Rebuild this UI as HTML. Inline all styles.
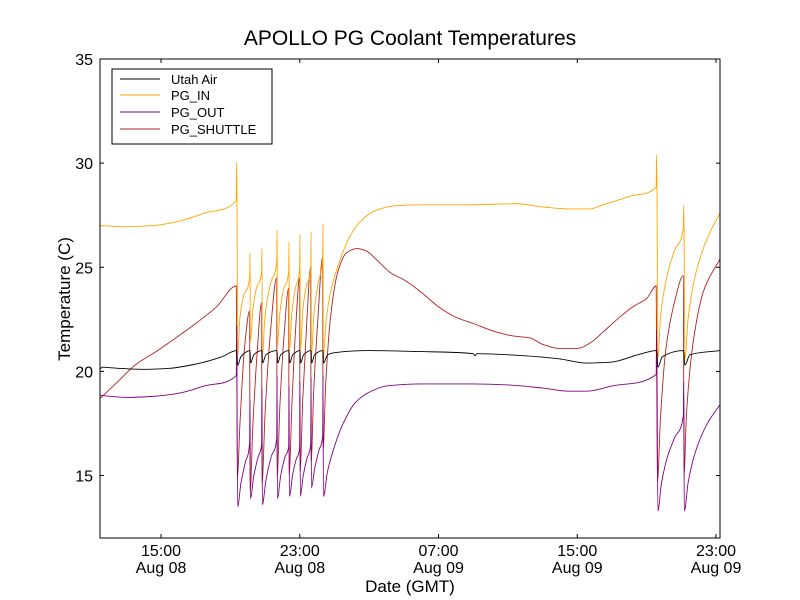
<!DOCTYPE html>
<html><head><meta charset="utf-8"><style>
body{margin:0;background:#fff}
svg{display:block;font-family:"Liberation Sans","DejaVu Sans",sans-serif}
</style></head><body>
<svg id="chart" width="800" height="600" xmlns="http://www.w3.org/2000/svg">
<rect width="800" height="600" fill="#fff"/>
<text x="410" y="45" font-size="21" text-anchor="middle">APOLLO PG Coolant Temperatures</text>
<g id="plot"></g>
<g id="axes"></g>
<text x="410" y="592" font-size="17" text-anchor="middle">Date (GMT)</text>
<text transform="translate(70,299) rotate(-90)" font-size="17" text-anchor="middle">Temperature (C)</text>
<g id="legend"></g>
</svg>
<script>
// hours since Aug 08 00:00
const xTickHours = [15, 23, 31, 39, 47];
const xTickTimes = ["15:00", "23:00", "07:00", "15:00", "23:00"];
const xTickDates = ["Aug 08", "Aug 08", "Aug 09", "Aug 09", "Aug 09"];
const yTicks = [15, 20, 25, 30, 35];
const seriesNames = ["Utah Air", "PG_IN", "PG_OUT", "PG_SHUTTLE"];
const seriesColors = ["#000000", "#ffa500", "#800080", "#b22222"];

const airT = [11.48,11.6,12.5,14,15.5,17,18.5,19.36,19.42,19.6,19.85,20.13,20.16,20.35,20.82,20.85,21.05,21.69,21.72,21.9,22.38,22.41,22.6,23.01,23.04,23.22,23.65,23.68,23.86,24.34,24.37,24.6,25,27,30,33,33.1,33.2,36,38,39.5,41,42.5,43.58,43.65,43.9,45.13,45.2,45.5,47.23];
const airV = [20.1,20.2,20.15,20.1,20.15,20.35,20.7,21.0,20.3,20.7,20.9,21.0,20.4,20.8,21.0,20.4,20.8,21.0,20.4,20.8,21.0,20.4,20.8,21.0,20.4,20.8,21.0,20.4,20.8,21.0,20.4,20.8,20.9,21.0,20.95,20.85,20.75,20.85,20.75,20.6,20.4,20.45,20.8,21.0,20.2,20.7,21.0,20.3,20.8,21.0];

const inT = [11.48,13,14.5,16,17.5,19.33,19.36,19.38,19.42,19.55,19.75,20.11,20.13,20.15,20.3,20.5,20.8,20.82,20.84,21.0,21.3,21.67,21.69,21.71,21.85,22.05,22.36,22.38,22.40,22.55,22.75,22.99,23.01,23.03,23.18,23.38,23.63,23.65,23.67,23.82,24.05,24.32,24.34,24.36,24.5,24.8,25.3,25.9,26.5,27.3,28.5,30,33,35.5,37,38.5,39.7,40.5,42,43.55,43.57,43.6,43.64,43.8,44.1,44.6,45.12,45.14,45.16,45.2,45.4,45.8,46.5,47.23];
const inV = [27.0,26.95,27.0,27.2,27.6,28.2,30.0,28.0,20.8,22.6,23.6,24.5,25.7,21.4,23.0,24.0,24.8,25.9,20.8,22.7,24.2,25.3,26.8,21.2,22.8,23.9,24.8,26.2,21.0,22.9,24.0,24.9,26.6,21.0,23.0,24.1,24.9,26.7,20.8,22.8,24.2,25.5,27.1,20.6,22.3,23.9,25.3,26.5,27.2,27.7,27.95,28.0,28.0,28.05,27.9,27.8,27.8,28.0,28.4,28.85,30.4,28.5,20.6,22.6,24.3,25.8,26.9,28.0,26.5,20.6,22.6,24.6,26.4,27.6];

const outT = [11.48,13,14.5,16,17.5,19.34,19.36,19.38,19.42,19.6,19.85,20.11,20.13,20.15,20.35,20.6,20.8,20.82,20.84,21.05,21.35,21.67,21.69,21.71,21.9,22.15,22.36,22.38,22.40,22.6,22.8,22.99,23.01,23.03,23.2,23.4,23.63,23.65,23.67,23.85,24.1,24.32,24.34,24.36,24.6,25.0,25.5,26.2,27.0,28,30,33,35,37,38.5,39.5,41,43.55,43.57,43.6,43.65,43.85,44.2,44.6,45.12,45.14,45.17,45.4,45.8,46.5,47.23];
const outV = [18.85,18.75,18.8,18.95,19.3,19.8,22.2,19.0,13.5,14.6,15.6,16.6,18.6,13.9,15.0,15.9,16.5,19.2,13.6,14.8,15.9,16.8,19.8,13.9,15.0,15.9,16.4,19.3,14.0,15.1,15.8,16.3,19.5,14.0,15.0,15.8,16.5,19.7,14.4,15.3,16.2,16.9,19.8,14.0,15.2,16.4,17.5,18.5,19.0,19.3,19.4,19.4,19.35,19.2,19.05,19.05,19.3,19.85,22.0,19.5,13.3,14.6,15.9,16.8,17.9,19.5,13.3,14.7,16.1,17.5,18.4];

const shT = [11.48,12.5,13.5,14.8,16,17,18.2,19.34,19.36,19.40,19.55,19.8,20.11,20.13,20.3,20.55,20.8,20.82,21.0,21.3,21.67,21.69,21.85,22.1,22.36,22.38,22.55,22.75,22.99,23.01,23.18,23.4,23.63,23.65,23.8,24.05,24.32,24.34,24.5,24.8,25.2,25.7,26.3,26.8,27.5,28.3,29,30,31,32,33,34.3,35.3,36.3,37,38,39,39.8,40.5,41.3,42.2,43,43.55,43.58,43.62,43.8,44.1,44.6,45.12,45.15,45.3,45.7,46.3,47.23];
const shV = [18.7,19.5,20.3,21.0,21.7,22.3,23.1,24.1,22.0,14.9,17.5,21.0,22.9,14.2,17.5,21.0,23.3,14.6,18.0,21.8,24.5,14.9,18.3,21.8,24.0,15.0,18.5,21.9,24.5,15.2,18.8,22.3,25.0,15.6,19.0,22.6,25.5,16.2,19.5,22.8,24.8,25.7,25.9,25.8,25.3,24.7,24.4,23.8,23.1,22.6,22.3,21.9,21.7,21.6,21.3,21.1,21.1,21.4,21.9,22.5,23.1,23.5,24.1,20.0,14.7,17.8,21.0,23.3,24.6,15.0,18.0,21.5,23.9,25.4];

const L=100,R=720,T=59,B=538, H0=11.48,H1=47.23, Y0=12, Y1=35;
const xS=h=>L+(h-H0)/(H1-H0)*(R-L);
const yS=v=>B-(v-Y0)/(Y1-Y0)*(B-T);
const NS="http://www.w3.org/2000/svg";
function mk(tag,attrs,parent){const e=document.createElementNS(NS,tag);for(const k in attrs)e.setAttribute(k,attrs[k]);parent.appendChild(e);return e;}

// monotone cubic path through pixel points
function monoPath(xs,ys){
  const n=xs.length, d=[], m=new Array(n);
  for(let i=0;i<n-1;i++) d.push((ys[i+1]-ys[i])/Math.max(xs[i+1]-xs[i],1e-6));
  m[0]=d[0]; m[n-1]=d[n-2];
  for(let i=1;i<n-1;i++){
    if(d[i-1]*d[i]<=0) m[i]=0;
    else { const w1=2*(xs[i+1]-xs[i])+(xs[i]-xs[i-1]), w2=(xs[i+1]-xs[i])+2*(xs[i]-xs[i-1]);
      m[i]=(w1+w2)/(w1/d[i-1]+w2/d[i]); }
  }
  let p='M'+xs[0].toFixed(2)+','+ys[0].toFixed(2);
  for(let i=0;i<n-1;i++){
    const h=(xs[i+1]-xs[i])/3;
    p+='C'+(xs[i]+h).toFixed(2)+','+(ys[i]+m[i]*h).toFixed(2)+' '+(xs[i+1]-h).toFixed(2)+','+(ys[i+1]-m[i+1]*h).toFixed(2)+' '+xs[i+1].toFixed(2)+','+ys[i+1].toFixed(2);
  }
  return p;
}

const plot=document.getElementById('plot');
const data=[[airT,airV],[inT,inV],[outT,outV],[shT,shV]];
const order=[3,1,2,0];
order.forEach(i=>{
  const [ts,vs]=data[i];
  const d=monoPath(ts.map(xS),vs.map(yS));
  const p=mk('path',{d:d,fill:'none',stroke:seriesColors[i],'stroke-width':0.9},plot);
  
  
});

const axes=document.getElementById('axes');
const fr=mk('rect',{x:L,y:T,width:R-L,height:B-T,fill:'none',stroke:'#000','stroke-width':1},axes);


yTicks.forEach(v=>{
  const y=yS(v);
  mk('line',{x1:L,x2:L+4,y1:y,y2:y,stroke:'#000'},axes);
  mk('line',{x1:R,x2:R-4,y1:y,y2:y,stroke:'#000'},axes);
  const t=mk('text',{x:L-7,y:y+6,'font-size':16,'text-anchor':'end'},axes);
  t.textContent=v;
  
  
});
xTickHours.forEach((h,i)=>{
  const x=xS(h);
  mk('line',{x1:x,x2:x,y1:B,y2:B-4,stroke:'#000'},axes);
  mk('line',{x1:x,x2:x,y1:T,y2:T+4,stroke:'#000'},axes);
  const t=mk('text',{x:x,y:556,'font-size':16,'text-anchor':'middle'},axes);
  t.textContent=xTickTimes[i];
  
  
  const t2=mk('text',{x:x,y:573,'font-size':16,'text-anchor':'middle'},axes);
  t2.textContent=xTickDates[i];
  
  
});

const lg=document.getElementById('legend');
mk('rect',{x:112,y:69,width:160,height:75,fill:'#fff',stroke:'#000','stroke-width':1},lg);
const rows=[79,95,112,129];
seriesNames.forEach((n,i)=>{
  const g=mk('g',{},lg);
  
  
  mk('line',{x1:120,x2:160,y1:rows[i],y2:rows[i],stroke:seriesColors[i],'stroke-width':0.9},g);
  const t=mk('text',{x:171,y:rows[i]+5,'font-size':13},g);
  t.textContent=n;
});
</script>
</body></html>
